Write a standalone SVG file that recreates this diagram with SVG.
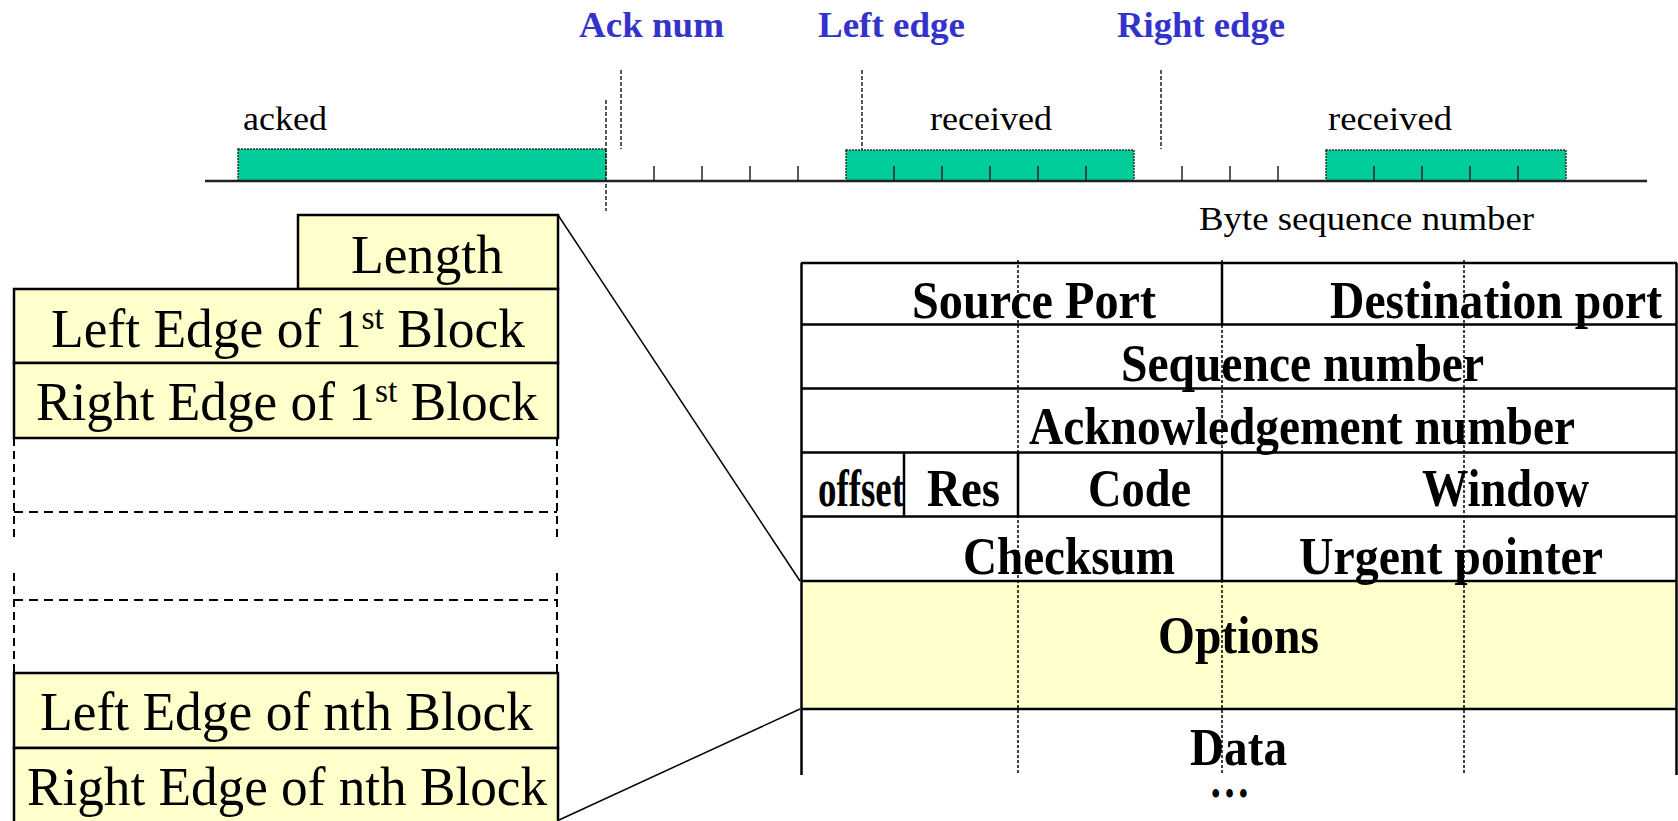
<svg xmlns="http://www.w3.org/2000/svg" width="1678" height="821" viewBox="0 0 1678 821">
<style>
.ser{font-family:"Liberation Serif","Times New Roman",serif;}
.blue{font-family:"Liberation Serif",serif;font-weight:bold;font-size:36px;fill:#3333CC;}
.small{font-family:"Liberation Serif",serif;font-size:34px;fill:#000;}
.big{font-family:"Liberation Serif",serif;font-size:54px;fill:#000;}
.tb{font-family:"Liberation Serif",serif;font-weight:bold;font-size:52px;fill:#000;}
.green{fill:#00CC99;stroke:#333;stroke-width:1.5;stroke-dasharray:2 1;}
.tick{stroke:#222;stroke-width:1.5;}
.mark{stroke:#222;stroke-width:1.5;stroke-dasharray:4 2;}
.cell{fill:#FFFFCC;stroke:#000;stroke-width:2.5;}
.dash{stroke:#000;stroke-width:2;stroke-dasharray:9 6;fill:none;}
.hl{stroke:#000;stroke-width:2.5;}
.dot{stroke:#000;stroke-width:1.5;stroke-dasharray:3 2;}
.conn{stroke:#000;stroke-width:1.5;fill:none;}
</style>

<g id="sequence-axis">
  <rect class="green" x="238" y="149" width="368" height="32"/>
  <rect class="green" x="846" y="150" width="288" height="31"/>
  <rect class="green" x="1326" y="150" width="240" height="31"/>
  <line x1="205" y1="181" x2="1647" y2="181" stroke="#222" stroke-width="2.5"/>
  <g class="tick">
    <line x1="654" y1="166" x2="654" y2="181"/>
    <line x1="702" y1="166" x2="702" y2="181"/>
    <line x1="750" y1="166" x2="750" y2="181"/>
    <line x1="798" y1="166" x2="798" y2="181"/>
    <line x1="894" y1="166" x2="894" y2="181"/>
    <line x1="942" y1="166" x2="942" y2="181"/>
    <line x1="990" y1="166" x2="990" y2="181"/>
    <line x1="1038" y1="166" x2="1038" y2="181"/>
    <line x1="1086" y1="166" x2="1086" y2="181"/>
    <line x1="1182" y1="166" x2="1182" y2="181"/>
    <line x1="1230" y1="166" x2="1230" y2="181"/>
    <line x1="1278" y1="166" x2="1278" y2="181"/>
    <line x1="1374" y1="166" x2="1374" y2="181"/>
    <line x1="1422" y1="166" x2="1422" y2="181"/>
    <line x1="1470" y1="166" x2="1470" y2="181"/>
    <line x1="1518" y1="166" x2="1518" y2="181"/>
  </g>
  <line class="mark" x1="606" y1="100" x2="606" y2="211"/>
  <line class="mark" x1="621" y1="70" x2="621" y2="149"/>
  <line class="mark" x1="862" y1="70" x2="862" y2="150"/>
  <line class="mark" x1="1161" y1="70" x2="1161" y2="149"/>
  <text class="blue" x="579" y="37" textLength="145" lengthAdjust="spacingAndGlyphs">Ack num</text>
  <text class="blue" x="818" y="37" textLength="147" lengthAdjust="spacingAndGlyphs">Left edge</text>
  <text class="blue" x="1117" y="37" textLength="168" lengthAdjust="spacingAndGlyphs">Right edge</text>
  <text class="small" x="243" y="130" textLength="84" lengthAdjust="spacingAndGlyphs">acked</text>
  <text class="small" x="930" y="130" textLength="122" lengthAdjust="spacingAndGlyphs">received</text>
  <text class="small" x="1328" y="130" textLength="124" lengthAdjust="spacingAndGlyphs">received</text>
  <text class="small" x="1199" y="230" font-size="36" textLength="335" lengthAdjust="spacingAndGlyphs">Byte sequence number</text>
</g>

<g id="sack-option">
  <rect class="cell" x="298" y="215" width="260" height="74"/>
  <rect class="cell" x="14" y="289" width="544" height="74"/>
  <rect class="cell" x="14" y="363" width="544" height="75"/>
  <line class="dash" x1="14" y1="512" x2="557" y2="512"/>
  <line class="dash" x1="14" y1="600" x2="557" y2="600"/>
  <path class="dash" d="M14,438 V537 M14,573 V673 M557,438 V537 M557,573 V673" style="stroke-dasharray:8 5"/>
  <rect class="cell" x="14" y="673" width="544" height="75"/>
  <rect class="cell" x="14" y="748" width="544" height="80"/>
  <text class="big" x="351" y="273" textLength="152" lengthAdjust="spacingAndGlyphs">Length</text>
  <text class="big" x="51" y="347" textLength="474" lengthAdjust="spacingAndGlyphs">Left Edge of 1<tspan font-size="34" dy="-18">st</tspan><tspan dy="18"> Block</tspan></text>
  <text class="big" x="36" y="420" textLength="502" lengthAdjust="spacingAndGlyphs">Right Edge of 1<tspan font-size="34" dy="-18">st</tspan><tspan dy="18"> Block</tspan></text>
  <text class="big" x="40" y="730" textLength="493" lengthAdjust="spacingAndGlyphs">Left Edge of nth Block</text>
  <text class="big" x="27" y="805" textLength="520" lengthAdjust="spacingAndGlyphs">Right Edge of nth Block</text>
</g>

<g id="tcp-header">
  <rect x="801" y="581" width="876" height="128" fill="#FFFFCC"/>
  <g class="dot">
    <line x1="1018" y1="260" x2="1018" y2="775"/>
    <line x1="1222" y1="260" x2="1222" y2="775"/>
    <line x1="1464" y1="260" x2="1464" y2="775"/>
  </g>
  <g class="hl">
    <line x1="801" y1="263" x2="1677" y2="263"/>
    <line x1="801" y1="324.5" x2="1677" y2="324.5"/>
    <line x1="801" y1="388.5" x2="1677" y2="388.5"/>
    <line x1="801" y1="452.5" x2="1677" y2="452.5"/>
    <line x1="801" y1="516.5" x2="1677" y2="516.5"/>
    <line x1="801" y1="581" x2="1677" y2="581"/>
    <line x1="801" y1="709" x2="1677" y2="709"/>
    <line x1="801.5" y1="263" x2="801.5" y2="775"/>
    <line x1="1676.5" y1="263" x2="1676.5" y2="775"/>
    <line x1="1222" y1="263" x2="1222" y2="324.5"/>
    <line x1="1222" y1="452.5" x2="1222" y2="581"/>
    <line x1="1018" y1="452.5" x2="1018" y2="516.5"/>
    <line x1="904" y1="452.5" x2="904" y2="516.5"/>
  </g>
  <text class="tb" x="912" y="318" textLength="244" lengthAdjust="spacingAndGlyphs">Source Port</text>
  <text class="tb" x="1330" y="318" textLength="332" lengthAdjust="spacingAndGlyphs">Destination port</text>
  <text class="tb" x="1121" y="381" textLength="363" lengthAdjust="spacingAndGlyphs">Sequence number</text>
  <text class="tb" x="1029" y="444" textLength="546" lengthAdjust="spacingAndGlyphs">Acknowledgement number</text>
  <text class="tb" x="818" y="506" font-size="36" textLength="86" lengthAdjust="spacingAndGlyphs">offset</text>
  <text class="tb" x="927" y="506" textLength="73" lengthAdjust="spacingAndGlyphs">Res</text>
  <text class="tb" x="1088" y="506" textLength="103" lengthAdjust="spacingAndGlyphs">Code</text>
  <text class="tb" x="1422" y="506" textLength="167" lengthAdjust="spacingAndGlyphs">Window</text>
  <text class="tb" x="963" y="574" textLength="212" lengthAdjust="spacingAndGlyphs">Checksum</text>
  <text class="tb" x="1299" y="574" textLength="304" lengthAdjust="spacingAndGlyphs">Urgent pointer</text>
  <text class="tb" x="1158" y="653" textLength="161" lengthAdjust="spacingAndGlyphs">Options</text>
  <text class="tb" x="1190" y="765" textLength="97" lengthAdjust="spacingAndGlyphs">Data</text>
  <text class="tb" x="1209" y="797" textLength="41" lengthAdjust="spacingAndGlyphs">…</text>
</g>

<g id="connectors">
  <line class="conn" x1="558" y1="215" x2="800" y2="581"/>
  <line class="conn" x1="559" y1="820" x2="800" y2="709"/>
</g>
</svg>
